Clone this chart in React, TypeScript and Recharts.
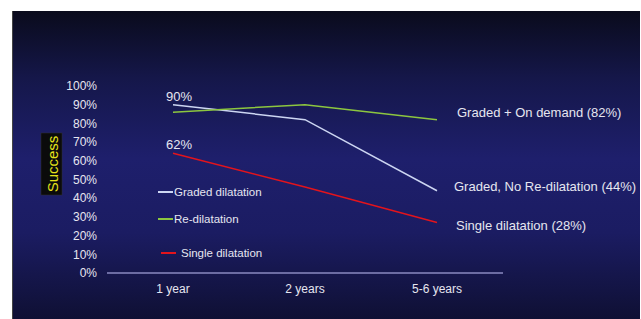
import { LineChart, Line, XAxis, YAxis, LabelList, Label } from "recharts";

const periods = ["1 year", "2 years", "5-6 years"];
const graded = [90, 82, 44];
const redilatation = [86, 90, 82];
const single = [64, 46, 27];
const yTicks = [0, 10, 20, 30, 40, 50, 60, 70, 80, 90, 100];
const firstLabels = { graded: "90%", single: "62%" };
const endLabels = {
  graded: "Graded, No Re-dilatation (44%)",
  redilatation: "Graded + On demand (82%)",
  single: "Single dilatation (28%)",
};
const legendNames = ["Graded dilatation", "Re-dilatation", "Single dilatation"];

const colors = { graded: "#cdd6f2", redilatation: "#8cc63f", single: "#e3141c" };
const txt = "#e6e6f0";
const font = "'Liberation Sans', Arial, sans-serif";

const data = periods.map((p, i) => ({
  period: p,
  graded: graded[i],
  redilatation: redilatation[i],
  single: single[i],
}));

function makeLabel(first: string | null, end: string, endDx: number, endDy: number) {
  return (props: any) => {
    const { x, y, index } = props;
    if (index === 0 && first) {
      return (
        <text x={x + 6} y={y - 4} fill={txt} fontSize={13} textAnchor="middle" fontFamily={font}>
          {first}
        </text>
      );
    }
    if (index === periods.length - 1) {
      return (
        <text x={x + endDx} y={y + endDy} fill={txt} fontSize={13} dominantBaseline="central" fontFamily={font}>
          {end}
        </text>
      );
    }
    return null;
  };
}

// legend drawn as an overlay inside the plot area
function LegendBox() {
  const items = [
    { name: legendNames[0], color: colors.graded, top: 0, indent: 0, gap: 1 },
    { name: legendNames[1], color: colors.redilatation, top: 14, indent: 0, gap: 1 },
    { name: legendNames[2], color: colors.single, top: 21, indent: 3, gap: 5 },
  ];
  return (
    <div style={{ position: "absolute", left: 158, top: 185, fontFamily: font, fontSize: 11.5, color: txt }}>
      {items.map((it) => (
        <div key={it.name} style={{ display: "flex", alignItems: "center", marginTop: it.top, height: 13 }}>
          <span style={{ display: "inline-block", marginLeft: it.indent, width: 15, height: 2, background: it.color, marginRight: it.gap }} />
          <span>{it.name}</span>
        </div>
      ))}
    </div>
  );
}

function SuccessLabel() {
  const cx = 52;
  const cy = 164;
  return (
    <g>
      <rect x={cx - 11} y={cy - 31} width={21} height={62} fill="#0b0b0b" stroke="#333" strokeWidth={0.5} />
      <text x={cx} y={cy} fill="#e6e21a" fontSize={15} fontFamily={font} textAnchor="middle"
            dominantBaseline="central" transform={`rotate(-90 ${cx} ${cy})`}>
        Success
      </text>
    </g>
  );
}

export default function App() {
  return (
    <div style={{ position: "absolute", left: 0, top: 0, width: 641, height: 319, background: "#fff" }}>
      <div style={{
        position: "absolute", left: 12, top: 11, width: 627, height: 308,
        background: "linear-gradient(to bottom, #0a0b1c 0%, #15174a 22%, #1e1f6c 48%, #1b1c62 72%, #0f1034 100%)",
        borderLeft: "1px solid #444",
      }} />
      <div style={{ position: "absolute", left: 0, top: 0 }}>
        <LineChart width={641} height={319} data={data} margin={{ top: 86, right: 138, bottom: 16, left: 0 }}>
          <XAxis dataKey="period" axisLine={{ stroke: "#8a8ac0", strokeWidth: 1.5 }} tickLine={false}
                 padding={{ left: 66, right: 66 }}
                 tick={{ fill: txt, fontSize: 12, fontFamily: font }} tickMargin={5} />
          <YAxis domain={[0, 100]} ticks={yTicks} width={107} axisLine={false} tickLine={false}
                 tickFormatter={(v) => `${v}%`} tick={{ fill: txt, fontSize: 12, fontFamily: font }}
                 tickMargin={4} interval={0}>
            <Label content={<SuccessLabel />} />
          </YAxis>
          <Line dataKey="graded" stroke={colors.graded} strokeWidth={1.5} dot={false} isAnimationActive={false}>
            <LabelList dataKey="graded" content={makeLabel(firstLabels.graded, endLabels.graded, 17, -4)} />
          </Line>
          <Line dataKey="redilatation" stroke={colors.redilatation} strokeWidth={1.5} dot={false} isAnimationActive={false}>
            <LabelList dataKey="redilatation" content={makeLabel(null, endLabels.redilatation, 20, -7)} />
          </Line>
          <Line dataKey="single" stroke={colors.single} strokeWidth={1.5} dot={false} isAnimationActive={false}>
            <LabelList dataKey="single" content={makeLabel(firstLabels.single, endLabels.single, 19, 3)} />
          </Line>
        </LineChart>
      </div>
      <LegendBox />
    </div>
  );
}
